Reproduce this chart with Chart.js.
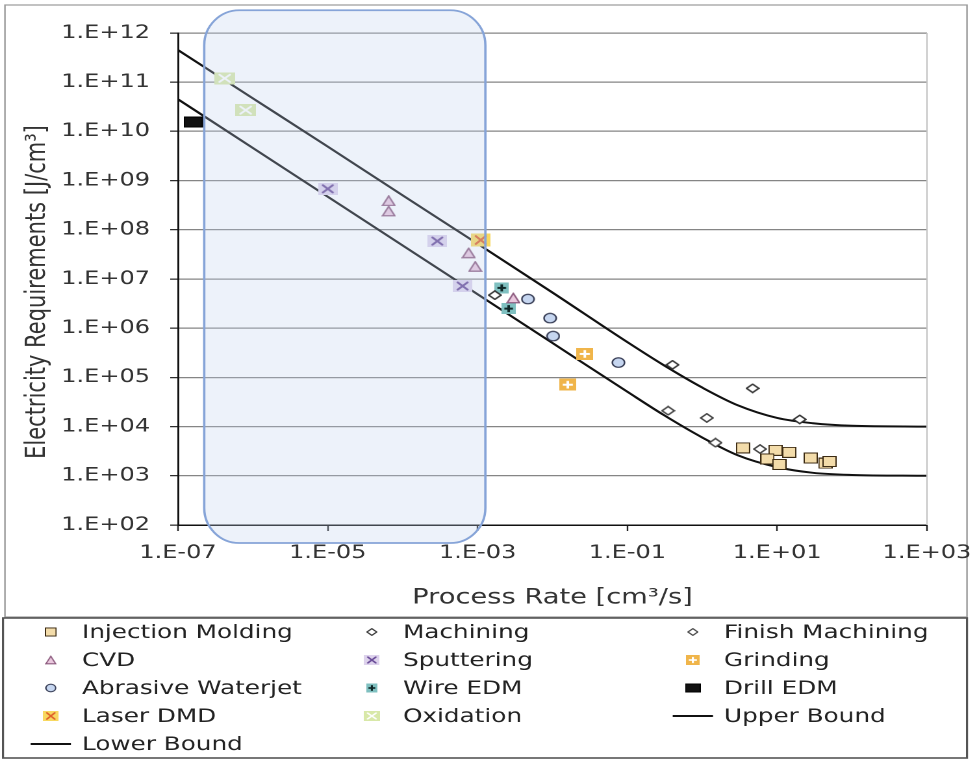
<!DOCTYPE html>
<html><head><meta charset="utf-8">
<script src="https://cdn.jsdelivr.net/npm/chart.js@4.4.1/dist/chart.umd.min.js"></script>
<style>
html,body{margin:0;padding:0;background:#fff;overflow:hidden;}
#wrap{position:absolute;left:0;top:0;width:752px;height:759px;transform:scaleX(1.2992);transform-origin:0 0;}
</style></head><body>
<div id="wrap"><canvas id="c" width="752" height="759"></canvas></div>
<script>
// ---- tick labels & titles ----
const xTickValues = [1e-7, 1e-5, 1e-3, 1e-1, 1e1, 1e3];
const xTickLabels = ['1.E-07', '1.E-05', '1.E-03', '1.E-01', '1.E+01', '1.E+03'];
const yTickValues = [1e2, 1e3, 1e4, 1e5, 1e6, 1e7, 1e8, 1e9, 1e10, 1e11, 1e12];
const yTickLabels = ['1.E+02', '1.E+03', '1.E+04', '1.E+05', '1.E+06', '1.E+07', '1.E+08', '1.E+09', '1.E+10', '1.E+11', '1.E+12'];
const xAxisTitle = 'Process Rate [cm³/s]';
const yAxisTitle = 'Electricity Requirements [J/cm³]';

// ---- series values ----
const injectionMoldingX = [3.5, 9.5, 14.5, 7.4, 10.7, 28, 44, 50];
const injectionMoldingY = [3700, 3300, 3000, 2200, 1700, 2300, 1800, 1950];
const machiningX = [0.0017, 0.4, 4.7, 20];
const machiningY = [4.7e6, 1.8e5, 6.0e4, 1.4e4];
const finishMachiningX = [0.35, 1.15, 1.5, 5.9];
const finishMachiningY = [2.1e4, 1.5e4, 4.7e3, 3.5e3];
const cvdX = [6.5e-5, 6.5e-5, 7.6e-4, 9.3e-4, 3.0e-3];
const cvdY = [3.9e8, 2.4e8, 3.4e7, 1.8e7, 4.1e6];
const sputteringX = [1.0e-5, 2.9e-4, 6.3e-4];
const sputteringY = [6.8e8, 5.9e7, 7.2e6];
const grindingX = [2.7e-2, 1.6e-2];
const grindingY = [3.0e5, 7.1e4];
const abrasiveWaterjetX = [4.7e-3, 9.3e-3, 1.02e-2, 7.6e-2];
const abrasiveWaterjetY = [3.9e6, 1.6e6, 6.9e5, 2.0e5];
const wireEdmX = [2.1e-3, 2.6e-3];
const wireEdmY = [6.6e6, 2.5e6];
const drillEdmX = [1.6e-7];
const drillEdmY = [1.55e10];
const laserDmdX = [1.1e-3];
const laserDmdY = [6.2e7];
const oxidationX = [4.2e-7, 8.0e-7];
const oxidationY = [1.2e11, 2.7e10];
const boundX = [1e-7, 1e-6, 1e-5, 1e-4, 1e-3, 1e-2, 1e-1, 0.3, 1, 3, 10, 30, 100, 1000];
const upperBoundY = [4.5e11, 4.7e10, 4.9e9, 5.0e8, 5.2e7, 5.3e6, 5.2e5, 1.8e5, 6.2e4, 2.7e4, 1.5e4, 1.17e4, 1.04e4, 1.0e4];
const lowerBoundY = [4.5e10, 4.6e9, 4.7e8, 4.8e7, 4.9e6, 5.0e5, 5.1e4, 1.75e4, 6.0e3, 2.6e3, 1.5e3, 1.15e3, 1.04e3, 1.0e3];
// highlighted region (data units)
const highlightX = [2.24e-7, 1.27e-3];
const highlightY = [43, 2.9e12];

// ---- marker styles ----
const markerSpecs = {
  'Injection Molding': {shape: 'square', w: 11, h: 11, fill: '#f3dcaa', stroke: '#3b2a12'},
  'Machining': {shape: 'diamond', w: 11, h: 10, fill: '#ffffff', stroke: '#333333'},
  'Finish Machining': {shape: 'diamond', w: 11, h: 10, fill: '#ffffff', stroke: '#444444'},
  'CVD': {shape: 'triangle', w: 11, h: 11, fill: '#eac8de', stroke: '#8e5d80'},
  'Sputtering': {shape: 'xbox', w: 15, h: 12, fill: '#ddd2ec', stroke: '#6a4c98'},
  'Grinding': {shape: 'plusbox', w: 13, h: 12, fill: '#f0b54a', stroke: '#ffffff'},
  'Abrasive Waterjet': {shape: 'circle', w: 11, h: 11, fill: '#c6d6f0', stroke: '#30364f'},
  'Wire EDM': {shape: 'plusbox', w: 11, h: 11, fill: '#7fc0c0', stroke: '#102828'},
  'Drill EDM': {shape: 'square', w: 15, h: 11, fill: '#111111', stroke: '#000000'},
  'Laser DMD': {shape: 'xbox', w: 15, h: 13, fill: '#f8d860', stroke: '#e0602a'},
  'Oxidation': {shape: 'xbox', w: 16, h: 12, fill: '#d8e8a8', stroke: '#ffffff'}
};

function makeMarker(spec) {
  const res = 4;
  const c = document.createElement('canvas');
  c.width = spec.w * res; c.height = spec.h * res;
  const g = c.getContext('2d');
  g.scale(res, res);
  const w = spec.w, h = spec.h;
  g.fillStyle = spec.fill; g.strokeStyle = spec.stroke;
  g.lineJoin = 'miter';
  if (spec.shape === 'square') {
    g.fillRect(0.5, 0.5, w - 1, h - 1);
    g.lineWidth = 1; g.strokeRect(0.5, 0.5, w - 1, h - 1);
  } else if (spec.shape === 'diamond') {
    g.beginPath(); g.moveTo(w / 2, 0.8); g.lineTo(w - 0.8, h / 2); g.lineTo(w / 2, h - 0.8); g.lineTo(0.8, h / 2); g.closePath();
    g.fill(); g.lineWidth = 1.4; g.stroke();
  } else if (spec.shape === 'triangle') {
    g.beginPath(); g.moveTo(w / 2, 0.8); g.lineTo(w - 0.8, h - 0.8); g.lineTo(0.8, h - 0.8); g.closePath();
    g.fill(); g.lineWidth = 1.3; g.stroke();
  } else if (spec.shape === 'circle') {
    g.beginPath(); g.ellipse(w / 2, h / 2, w / 2 - 0.8, h / 2 - 0.8, 0, 0, Math.PI * 2);
    g.fill(); g.lineWidth = 1.2; g.stroke();
  } else if (spec.shape === 'xbox') {
    g.fillRect(0, 0, w, h);
    g.lineWidth = 1.8; g.lineCap = 'round';
    g.beginPath(); g.moveTo(w * 0.25, h * 0.2); g.lineTo(w * 0.75, h * 0.8);
    g.moveTo(w * 0.75, h * 0.2); g.lineTo(w * 0.25, h * 0.8); g.stroke();
  } else if (spec.shape === 'plusbox') {
    g.fillRect(0, 0, w, h);
    g.lineWidth = 2;
    g.beginPath(); g.moveTo(w / 2, h * 0.18); g.lineTo(w / 2, h * 0.82);
    g.moveTo(w * 0.2, h / 2); g.lineTo(w * 0.8, h / 2); g.stroke();
  }
  const img = new Image();
  img.src = c.toDataURL();
  img.width = w; img.height = h;
  return img;
}

function pts(xs, ys) { return xs.map((x, i) => ({x: x, y: ys[i]})); }

const FONT = "'DejaVu Sans', 'Liberation Sans', sans-serif";

function roundedBox(ctx, x1, y1, x2, y2, rx, ry) {
  ctx.beginPath();
  ctx.moveTo(x1 + rx, y1);
  ctx.lineTo(x2 - rx, y1);
  ctx.ellipse(x2 - rx, y1 + ry, rx, ry, 0, -Math.PI / 2, 0);
  ctx.lineTo(x2, y2 - ry);
  ctx.ellipse(x2 - rx, y2 - ry, rx, ry, 0, 0, Math.PI / 2);
  ctx.lineTo(x1 + rx, y2);
  ctx.ellipse(x1 + rx, y2 - ry, rx, ry, 0, Math.PI / 2, Math.PI);
  ctx.lineTo(x1, y1 + ry);
  ctx.ellipse(x1 + rx, y1 + ry, rx, ry, 0, Math.PI, Math.PI * 1.5);
  ctx.closePath();
}

const framePlugin = {
  id: 'frame',
  beforeDraw(chart) {
    const ctx = chart.ctx;
    ctx.save();
    ctx.fillStyle = '#ffffff';
    ctx.fillRect(0, 0, chart.width, chart.height);
    ctx.strokeStyle = '#9a9a9a'; ctx.lineWidth = 1.2;
    ctx.strokeRect(3.8, 5, 740.5, 612);
    ctx.strokeStyle = '#555555'; ctx.lineWidth = 1.6;
    ctx.strokeRect(2.3, 618, 742, 140);
    ctx.restore();
  },
  afterDatasetsDraw(chart) {
    const ctx = chart.ctx, xs = chart.scales.x, ys = chart.scales.y, a = chart.chartArea;
    ctx.save();
    // right border of plot area
    ctx.strokeStyle = '#c4c4c4'; ctx.lineWidth = 1;
    ctx.beginPath(); ctx.moveTo(a.right, a.top); ctx.lineTo(a.right, a.bottom); ctx.stroke();
    // highlighted region
    const x1 = xs.getPixelForValue(highlightX[0]), x2 = xs.getPixelForValue(highlightX[1]);
    const y1 = ys.getPixelForValue(highlightY[1]), y2 = ys.getPixelForValue(highlightY[0]);
    roundedBox(ctx, x1, y1, x2, y2, 27, 35);
    ctx.fillStyle = 'rgba(190,208,238,0.28)'; ctx.fill();
    ctx.strokeStyle = '#86a4d8'; ctx.lineWidth = 1.8; ctx.stroke();
    ctx.restore();
  },
  afterDraw(chart) {
    const ctx = chart.ctx;
    ctx.save();
    // y axis title
    ctx.translate(29.2, 292);
    ctx.rotate(-Math.PI / 2);
    ctx.font = '21px ' + FONT; ctx.fillStyle = '#333';
    ctx.textAlign = 'center'; ctx.textBaseline = 'middle';
    ctx.fillText(yAxisTitle, 0, 0);
    ctx.restore();
    // legend
    ctx.save();
    const textXs = [63.1, 310.2, 557.3];
    ctx.font = '19px ' + FONT; ctx.fillStyle = '#222'; ctx.textBaseline = 'middle'; ctx.textAlign = 'left';
    chart.data.datasets.forEach((ds, i) => {
      const row = Math.floor(i / 3), col = i % 3;
      const y = 632 + row * 28;
      const tx = textXs[col];
      const mx = tx - 24;
      if (ds.showLine) {
        ctx.strokeStyle = '#111'; ctx.lineWidth = 2;
        ctx.beginPath(); ctx.moveTo(mx - 15.5, y); ctx.lineTo(mx + 15.5, y); ctx.stroke();
      } else {
        const img = ds.pointStyle, s = 0.8;
        ctx.drawImage(img, mx - img.width * s / 2, y - img.height * s / 2, img.width * s, img.height * s);
      }
      ctx.fillText(ds.label, tx, y + 1);
    });
    ctx.restore();
  }
};

async function main() {
  const markers = {};
  Object.keys(markerSpecs).forEach(k => { markers[k] = makeMarker(markerSpecs[k]); });
  await Promise.all(Object.values(markers).map(m => m.decode().catch(() => {})));

  const scatterSeries = [
    ['Injection Molding', injectionMoldingX, injectionMoldingY],
    ['Machining', machiningX, machiningY],
    ['Finish Machining', finishMachiningX, finishMachiningY],
    ['CVD', cvdX, cvdY],
    ['Sputtering', sputteringX, sputteringY],
    ['Grinding', grindingX, grindingY],
    ['Abrasive Waterjet', abrasiveWaterjetX, abrasiveWaterjetY],
    ['Wire EDM', wireEdmX, wireEdmY],
    ['Drill EDM', drillEdmX, drillEdmY],
    ['Laser DMD', laserDmdX, laserDmdY],
    ['Oxidation', oxidationX, oxidationY]
  ];
  const datasets = scatterSeries.map(s => ({
    label: s[0], data: pts(s[1], s[2]), pointStyle: markers[s[0]], pointRadius: 6, showLine: false
  }));
  datasets.push({label: 'Upper Bound', data: pts(boundX, upperBoundY), showLine: true, pointRadius: 0,
    borderColor: '#111', borderWidth: 2, cubicInterpolationMode: 'monotone', fill: false});
  datasets.push({label: 'Lower Bound', data: pts(boundX, lowerBoundY), showLine: true, pointRadius: 0,
    borderColor: '#111', borderWidth: 2, cubicInterpolationMode: 'monotone', fill: false});

  Chart.defaults.font.family = FONT;
  new Chart(document.getElementById('c'), {
    type: 'scatter',
    data: {datasets: datasets},
    options: {
      responsive: false, animation: false, devicePixelRatio: 2,
      events: [],
      layout: {padding: {left: 0, right: 38.5, top: 33, bottom: 144}},
      plugins: {legend: {display: false}, tooltip: {enabled: false}},
      scales: {
        x: {
          type: 'logarithmic', position: 'bottom', min: 1e-7, max: 1e3,
          afterBuildTicks: s => { s.ticks = xTickValues.map(v => ({value: v})); },
          afterFit: s => { s.height = 90; s.paddingLeft = 0; s.paddingRight = 0; },
          ticks: {callback: (v, i) => xTickLabels[i], autoSkip: false, maxRotation: 0, minRotation: 0,
            padding: 11, font: {size: 18.5}, color: '#333'},
          grid: {drawOnChartArea: false, drawTicks: true, tickLength: 6, tickColor: '#222', tickWidth: 1.2},
          border: {display: true, color: '#111', width: 1.5},
          title: {display: true, text: xAxisTitle, font: {size: 21}, color: '#333', padding: {top: 0, bottom: 4.4}}
        },
        y: {
          type: 'logarithmic', position: 'left', min: 1e2, max: 1e12,
          afterBuildTicks: s => { s.ticks = yTickValues.map(v => ({value: v})); },
          afterFit: s => { s.width = 137; s.paddingTop = 0; s.paddingBottom = 0; },
          ticks: {callback: (v, i) => yTickLabels[i], autoSkip: false, padding: 15.5, font: {size: 18.5}, color: '#333'},
          grid: {color: '#858585', lineWidth: 1.3, drawTicks: true, tickLength: 6, tickColor: '#222', tickWidth: 1.2},
          border: {display: true, color: '#111', width: 1.5}
        }
      }
    },
    plugins: [framePlugin]
  });
}
main();
</script>
</body></html>
